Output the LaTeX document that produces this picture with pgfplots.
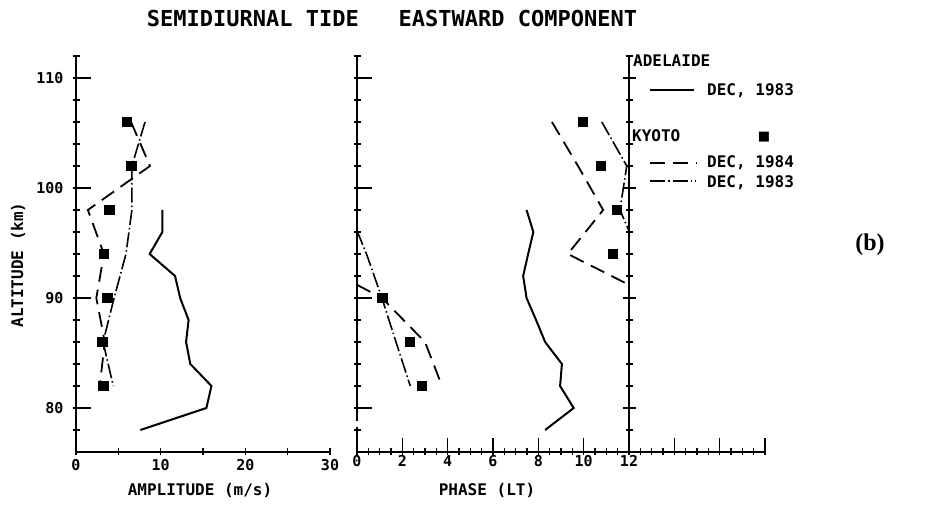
\documentclass[border=0pt]{standalone}
\usepackage{pgfplots}
\pgfplotsset{compat=1.18}
\usepackage{fontspec}
\setmainfont{DejaVu Sans Mono}
\newfontfamily\seriffont{Liberation Serif}
\newfontfamily\symfont{DejaVu Sans}
\tikzset{
  sol/.style={black, line width=2pt},
  dsh/.style={black, line width=1.8pt, dash pattern=on 15pt off 8pt},
  dd/.style={black, line width=1.6pt, dash pattern=on 15pt off 3pt on 1.5pt off 3pt},
}
\begin{document}
\begin{tikzpicture}[x=1pt,y=1pt]
\path[use as bounding box] (0,0) rectangle (925,505);
\pgfplotsset{
  panel/.style={
    scale only axis, height=396pt, ymin=76, ymax=112,
    axis x line*=bottom, axis y line*=left,
    axis line style={line width=1.7pt, black, -},
    every tick/.style={line width=1.6pt, black},
    tick align=center,
    major tick length=7pt, minor tick length=7pt,
    ytick={78,80,...,112}, yticklabels={},
    extra y ticks={80,90,100,110},
    extra y tick style={tick align=inside, major tick length=15pt},
    tick label style={font=\bfseries\fontsize{15}{15}\selectfont},
    /pgf/number format/assume math mode=true,
    clip=false,
  },
  sq/.style={only marks, mark=square*, mark size=4.7pt, black},
}
% ---------- left panel: amplitude ----------
\begin{axis}[panel, at={(76pt,53pt)}, anchor=south west, width=254pt,
  xmin=0, xmax=30, xtick={0,5,...,30}, xticklabels={0,,10,,20,,30},
  yticklabel style={xshift=-9pt}]
\addplot[sol] coordinates {(7.6,78) (15.4,80) (16.0,82) (13.5,84) (13.0,86) (13.3,88) (12.3,90) (11.7,92) (8.7,94) (10.2,96) (10.2,98)};
\addplot[dsh] coordinates {(6.5,106) (8.74,102) (1.4,98) (3.3,94) (2.4,90) (3.4,86) (2.8,82)};
\addplot[dd] coordinates {(8.15,106) (6.6,102) (6.6,98) (5.9,94) (4.5,90) (3.2,86) (4.4,82)};
\addplot[sq] coordinates {(6.0,106) (6.5,102) (3.9,98) (3.3,94) (3.7,90) (3.1,86) (3.2,82)};
\end{axis}
% ---------- middle panel: phase ----------
\begin{axis}[panel, at={(357pt,53pt)}, anchor=south west, width=408pt,
  xmin=0, xmax=18, xtick={0,0.5,...,18}, xticklabels={},
  extra x ticks={0,2,...,18}, extra x tick labels={0,2,4,6,8,10,12,,,},
  extra x tick style={tick align=inside, major tick length=14pt},
  extra y tick labels={,,,}]
\addplot[sol] coordinates {(8.3,78) (9.56,80) (8.96,82) (9.04,84) (8.3,86) (7.9,88) (7.48,90) (7.33,92) (7.55,94) (7.78,96) (7.48,98)};
\addplot[dsh] coordinates {(8.6,106) (9.75,102) (10.86,98) (9.3,94) (12,91.2)};
\addplot[dsh] coordinates {(0,91.2) (1.1,90) (3.0,86) (3.75,82)};
\addplot[dd] coordinates {(10.8,106) (11.9,102) (11.6,98) (12,96.1)};
\addplot[dd] coordinates {(0,96.1) (0.42,94) (1.1,90) (1.72,86) (2.35,82)};
\addplot[sq] coordinates {(9.96,106) (10.74,102) (11.45,98) (11.29,94) (1.11,90) (2.33,86) (2.86,82)};
\draw[line width=1.7pt] (axis cs:12,76) -- (axis cs:12,112);
\pgfplotsinvokeforeach{78,80,...,112}{\draw[line width=1.6pt] ([xshift=-3.5pt]axis cs:12,#1) -- ([xshift=3.5pt]axis cs:12,#1);}
\pgfplotsinvokeforeach{80,90,100,110}{\draw[line width=1.6pt] ([xshift=-6pt]axis cs:12,#1) -- ([xshift=7pt]axis cs:12,#1);}
\coordinate (g1) at (axis cs:0,78.25);
\coordinate (g2) at (axis cs:0,78.8);
\end{axis}
\draw[white, line width=4pt] (g1) -- (g2);
% ---------- texts ----------
\begin{scope}[every node/.append style={inner sep=0pt}]
\node[anchor=base, font=\bfseries\fontsize{22}{22}\selectfont] at (392,478) {SEMIDIURNAL TIDE\ \ \ EASTWARD COMPONENT};
\node[anchor=base, font=\bfseries\fontsize{16}{16}\selectfont] at (200,9) {AMPLITUDE (m/s)};
\node[anchor=base, font=\bfseries\fontsize{16}{16}\selectfont] at (487,9) {PHASE (LT)};
\node[anchor=base, rotate=90, font=\bfseries\fontsize{16}{16}\selectfont] at (23,240) {ALTITUDE (km)};
\node[font=\seriffont\bfseries\fontsize{24}{24}\selectfont] at (870,260) {(b)};
\end{scope}
% legend
\begin{scope}[font=\bfseries\fontsize{16}{16}\selectfont, every node/.append style={inner sep=0pt}]
\node[anchor=base west] at (633,438) {ADELAIDE};
\draw[sol] (650,415) -- (694,415);
\node[anchor=base west] at (707,409) {DEC, 1983};
\node[anchor=base west] at (632,363) {KYOTO};
\node[font=\symfont\fontsize{13}{13}\selectfont] at (764,368) {■};
\draw[dsh] (650,342) -- (697,342);
\node[anchor=base west] at (707,337) {DEC, 1984};
\draw[dd] (650,324) -- (696,324);
\node[anchor=base west] at (707,317) {DEC, 1983};
\end{scope}
\end{tikzpicture}
\end{document}
